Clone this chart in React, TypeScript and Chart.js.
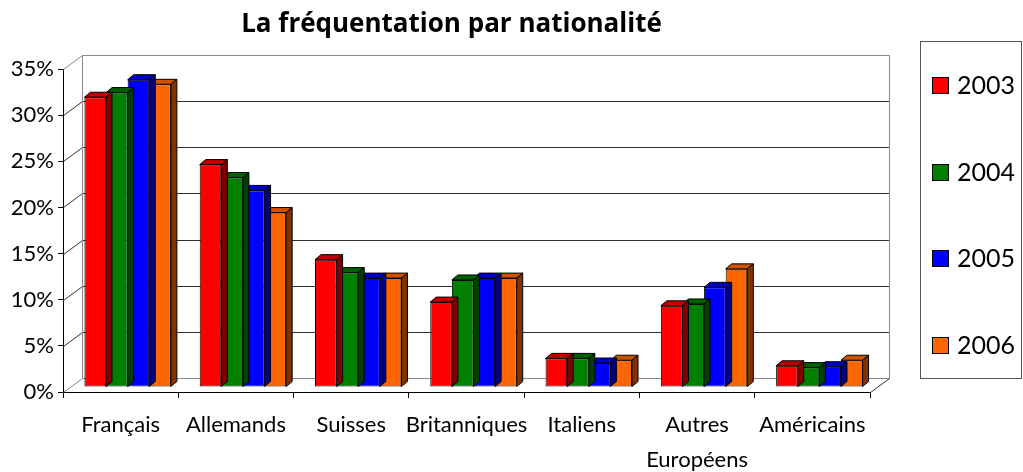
import React, { useEffect, useRef } from 'react';
import { Chart, registerables } from 'chart.js';

Chart.register(...registerables);

const chartTitle = 'La fréquentation par nationalité';
const categories: (string | string[])[] = [
  'Français',
  'Allemands',
  'Suisses',
  'Britanniques',
  'Italiens',
  ['Autres', 'Européens'],
  'Américains',
];
const seriesLabels = ['2003', '2004', '2005', '2006'];
const values2003 = [31.4, 24.1, 13.8, 9.2, 3.1, 8.8, 2.3];
const values2004 = [31.9, 22.7, 12.4, 11.6, 3.1, 9.0, 2.1];
const values2005 = [33.3, 21.3, 11.8, 11.8, 2.6, 10.8, 2.2];
const values2006 = [32.8, 18.9, 11.8, 11.8, 2.9, 12.8, 2.9];
const yTickValues = [0, 5, 10, 15, 20, 25, 30, 35];

const frontColors = ['#FF0000', '#008000', '#0000FF', '#FF6600'];
const topColors = ['#C00000', '#006000', '#0000C0', '#CC5200'];
const sideColors = ['#800000', '#004000', '#000080', '#803300'];

const FONT = 'Lato, "Open Sans", sans-serif';
const TITLE_FONT = '"Open Sans", Lato, sans-serif';
const WALL = { dx: 19, dy: -14 };
const BAR_SHIFT = { dx: 7, dy: -5 };
const BAR_DEPTH = { dx: 6, dy: -5 };

const threeDPlugin = {
  id: 'threeD',
  beforeDatasetsDraw(chart: any) {
    const { ctx, chartArea: a, scales } = chart;
    const y = scales.y;
    ctx.save();
    ctx.lineWidth = 1;
    const L = a.left + 0.5;
    const R = a.right + 0.5;
    const yMax = yTickValues[yTickValues.length - 1];
    for (const v of yTickValues) {
      const py = Math.round(y.getPixelForValue(v)) + 0.5;
      const edge = v === 0 || v === yMax;
      ctx.strokeStyle = edge ? '#8a8a8a' : '#303030';
      ctx.beginPath();
      ctx.moveTo(L, py);
      ctx.lineTo(L + WALL.dx, py + WALL.dy);
      ctx.lineTo(R + WALL.dx, py + WALL.dy);
      ctx.stroke();
    }
    const pTop = Math.round(y.getPixelForValue(yMax)) + 0.5 + WALL.dy;
    const pBot = Math.round(y.getPixelForValue(0)) + 0.5 + WALL.dy;
    ctx.strokeStyle = '#8a8a8a';
    ctx.beginPath();
    ctx.moveTo(L + WALL.dx, pTop);
    ctx.lineTo(L + WALL.dx, pBot);
    ctx.moveTo(R + WALL.dx, pTop);
    ctx.lineTo(R + WALL.dx, pBot);
    ctx.stroke();
    const p0 = Math.round(y.getPixelForValue(0)) + 0.5;
    ctx.strokeStyle = '#303030';
    ctx.beginPath();
    ctx.moveTo(R, p0);
    ctx.lineTo(R + WALL.dx, p0 + WALL.dy);
    ctx.stroke();
    ctx.restore();

    ctx.save();
    ctx.translate(BAR_SHIFT.dx, BAR_SHIFT.dy);
  },
  afterDatasetDraw(chart: any, args: any) {
    const { ctx } = chart;
    const i = args.index;
    ctx.save();
    ctx.lineWidth = 1;
    ctx.strokeStyle = '#000';
    ctx.lineJoin = 'round';
    for (const bar of args.meta.data) {
      const { x, y, base, width } = bar.getProps(['x', 'y', 'base', 'width'], true);
      const l = x - width / 2;
      const r = x + width / 2;
      ctx.beginPath();
      ctx.moveTo(l, y);
      ctx.lineTo(l + BAR_DEPTH.dx, y + BAR_DEPTH.dy);
      ctx.lineTo(r + BAR_DEPTH.dx, y + BAR_DEPTH.dy);
      ctx.lineTo(r, y);
      ctx.closePath();
      ctx.fillStyle = topColors[i];
      ctx.fill();
      ctx.stroke();
      ctx.beginPath();
      ctx.moveTo(r, y);
      ctx.lineTo(r + BAR_DEPTH.dx, y + BAR_DEPTH.dy);
      ctx.lineTo(r + BAR_DEPTH.dx, base + BAR_DEPTH.dy);
      ctx.lineTo(r, base);
      ctx.closePath();
      ctx.fillStyle = sideColors[i];
      ctx.fill();
      ctx.stroke();
    }
    ctx.restore();
  },
  afterDatasetsDraw(chart: any) {
    chart.ctx.restore();
  },
  afterDraw(chart: any) {
    const { ctx } = chart;
    ctx.save();
    // title
    ctx.fillStyle = '#000';
    ctx.font = `bold 26px ${TITLE_FONT}`;
    ctx.textAlign = 'center';
    ctx.textBaseline = 'middle';
    ctx.fillText(chartTitle, 451.5, 25);
    // legend box
    const bx = 920.5, by = 41.5, bw = 101, bh = 337;
    ctx.strokeStyle = '#555';
    ctx.lineWidth = 1;
    ctx.strokeRect(bx, by, bw, bh);
    ctx.font = `25px ${FONT}`;
    ctx.textBaseline = 'middle';
    ctx.textAlign = 'left';
    const firstY = 85;
    const step = 86.7;
    chart.data.datasets.forEach((ds: any, k: number) => {
      const cy = Math.round(firstY + k * step);
      ctx.fillStyle = frontColors[k];
      ctx.fillRect(932.5, cy - 8 + 0.5, 16, 16);
      ctx.strokeStyle = '#000';
      ctx.strokeRect(932.5, cy - 8 + 0.5, 16, 16);
      ctx.fillStyle = '#000';
      ctx.fillText(ds.label, 957, cy + 1);
    });
    ctx.restore();
  },
};

export default function App() {
  const ref = useRef<HTMLCanvasElement>(null);
  useEffect(() => {
    if (!ref.current) return;
    const series = [values2003, values2004, values2005, values2006];
    const chart = new Chart(ref.current, {
      type: 'bar',
      data: {
        labels: categories as any,
        datasets: series.map((vals, k) => ({
          label: seriesLabels[k],
          data: vals,
          backgroundColor: frontColors[k],
          borderColor: '#000',
          borderWidth: 1,
          borderSkipped: false,
          categoryPercentage: 0.75,
          barPercentage: 1,
          clip: false as any,
        })),
      },
      options: {
        responsive: false,
        animation: false,
        devicePixelRatio: 1,
        layout: { padding: { left: 0, right: 153, top: 69, bottom: 0 } },
        plugins: {
          legend: { display: false },
          tooltip: { enabled: false },
          title: { display: false },
        },
        scales: {
          x: {
            grid: {
              drawOnChartArea: false,
              drawTicks: true,
              tickLength: 6,
              color: '#000',
              offset: true,
            },
            border: { display: true, color: '#000' },
            ticks: {
              color: '#000',
              font: { family: FONT, size: 22, lineHeight: '35px' as any },
              padding: 9,
              autoSkip: false,
              maxRotation: 0,
              minRotation: 0,
            },
            afterFit: (s: any) => {
              s.height = 80;
            },
          },
          y: {
            min: 0,
            max: 35,
            grid: {
              drawOnChartArea: false,
              drawTicks: true,
              tickLength: 5,
              color: '#000',
            },
            border: { display: true, color: '#000' },
            ticks: {
              stepSize: 5,
              color: '#000',
              font: { family: FONT, size: 22 },
              padding: 4,
              callback: (v: any) => `${v}%`,
            },
            afterFit: (s: any) => {
              s.width = 63;
            },
          },
        },
      },
      plugins: [threeDPlugin],
    });
    return () => chart.destroy();
  }, []);
  return (
    <div style={{ position: 'fixed', left: 0, top: 0, width: 1023, height: 472, background: '#fff' }}>
      <canvas ref={ref} width={1023} height={472} style={{ display: 'block' }} />
    </div>
  );
}
